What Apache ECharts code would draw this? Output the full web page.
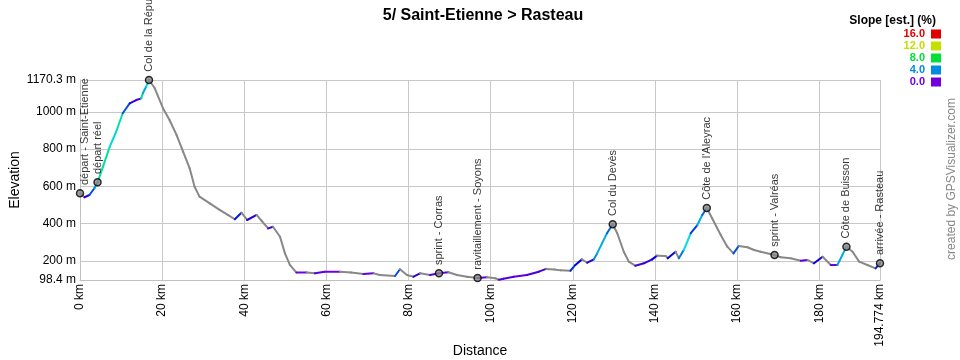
<!DOCTYPE html>
<html><head><meta charset="utf-8">
<script src="https://cdn.jsdelivr.net/npm/echarts@6/dist/echarts.min.js"></script>
<style>html,body{margin:0;padding:0;background:#fff}#c{width:960px;height:360px}</style>
</head><body><div id="c"></div>
<script>
// ---- data ----
const distanceKm = [0, 1.1, 2.3, 3.5, 4.27, 5.6, 7.2, 8.8, 10.4, 12.1, 13.7, 14.9, 15.3, 16.1, 16.8,
  18.2, 20.2, 21.8, 23.5, 25.1, 26.7, 27.9, 29.1, 31.6, 34.0, 36.0, 37.7, 39.3, 40.7, 43.0, 44.2, 45.8,
  47.0, 48.7, 49.9, 51.1, 52.7, 55.2, 57.2, 59.6, 63.3, 66.0, 69.0, 71.5, 73.0, 76.7, 77.9, 79.6, 81.2,
  82.8, 85.2, 87.4, 89.7, 91.8, 94.2, 96.8, 99.1, 101.1, 102.0, 103.1, 105.6, 108.8, 111.7, 113.5, 115.5,
  117.0, 119.4, 120.6, 122.2, 123.5, 125.1, 125.9, 127.1, 128.3, 129.7, 130.8, 132.4, 133.6, 135.2, 137.3,
  139.3, 140.5, 142.6, 143.1, 145.0, 145.8, 147.0, 148.7, 150.3, 151.5, 152.6, 153.9, 156.0, 157.6, 159.1,
  160.4, 162.5, 164.1, 165.7, 169.1, 170.6, 173.0, 175.5, 177.1, 178.7, 180.8, 182.8, 184.4, 185.6, 186.6,
  188.1, 189.7, 191.7, 193.7, 194.774];
const elevationM = [563, 542, 554, 590, 622, 706, 810, 893, 992, 1045, 1063, 1072, 1099, 1134, 1170.3,
  1126, 1019, 956, 876, 786, 697, 598, 545, 509, 474, 447, 424, 459, 420, 447, 416, 375,
  384, 330, 241, 179, 138, 138, 134, 143, 143, 138, 130, 134, 125, 120, 156, 125, 116,
  134, 125, 134, 140, 125, 116, 109, 113, 108, 100, 105, 116, 125, 143, 158, 155,
  150, 148, 179, 209, 191, 209, 241, 295, 349, 397, 349, 250, 197, 175, 188,
  209, 229, 227, 215, 250, 215, 259, 349, 393, 447, 484, 429, 340, 277, 241,
  281, 274, 259, 250, 232, 220, 215, 202, 206, 188, 223, 179, 179, 232, 277,
  250, 197, 179, 161, 188];
const xTickValues = [0, 20, 40, 60, 80, 100, 120, 140, 160, 180, 194.774];
const yTickValues = [98.4, 200, 400, 600, 800, 1000, 1170.3];
const waypointKm = [0, 4.27, 16.8, 87.4, 96.8, 129.7, 152.6, 169.1, 186.6, 194.774];
const waypointElev = [563, 622, 1170.3, 134, 109, 397, 484, 232, 277, 188];
const waypointNames = ['départ - Saint-Etienne', 'départ réel', 'Col de la République', 'sprint - Corras',
  'ravitaillement - Soyons', 'Col du Devès', "Côte de l'Aleyrac", 'sprint - Valréas', 'Côte de Buisson',
  'arrivée - Rasteau'];
const slopeLegendValues = [16.0, 12.0, 8.0, 4.0, 0.0];

function slopeColor(s) {
  if (s < 0) return '#888888';
  const c = Math.min(s, 16);
  return 'hsl(' + (270 - c * 16.875).toFixed(1) + ',100%,44%)';
}

const segData = [];
for (let i = 0; i < distanceKm.length - 1; i++) {
  const dx = distanceKm[i + 1] - distanceKm[i];
  const dy = elevationM[i + 1] - elevationM[i];
  segData.push([distanceKm[i], elevationM[i], distanceKm[i + 1], elevationM[i + 1], dy / (dx * 10)]);
}
const wpData = waypointKm.map((k, i) => {
  const item = { value: [k, waypointElev[i]], name: waypointNames[i] };
  if (i === 0) item.label = { position: [9.5, -4] };
  return item;
});

const FONT = '"Liberation Sans", Arial, sans-serif';
const legendGraphics = [{
  type: 'text', right: 24, top: 15,
  style: { text: 'Slope [est.] (%)', font: 'bold 12px ' + FONT, fill: '#000' }
}];
slopeLegendValues.forEach((v, i) => {
  legendGraphics.push({
    type: 'text', x: 925, y: 34 + 12 * i,
    style: { text: v.toFixed(1), font: 'bold 11px ' + FONT, fill: slopeColor(v), align: 'right', verticalAlign: 'middle' }
  });
  legendGraphics.push({
    type: 'rect', shape: { x: 931, y: 29.5 + 12 * i, width: 10, height: 9 },
    style: { fill: slopeColor(v) }
  });
});
legendGraphics.push({
  type: 'text', x: 952, y: 179, rotation: Math.PI / 2,
  style: { text: 'created by GPSVisualizer.com', font: '12px ' + FONT, fill: '#888', align: 'center', verticalAlign: 'middle' }
});

const chart = echarts.init(document.getElementById('c'), null, { renderer: 'canvas' });
chart.setOption({
  animation: false,
  backgroundColor: '#fff',
  title: {
    text: '5/ Saint-Etienne > Rasteau', left: 478, top: 3, textAlign: 'center',
    textStyle: { fontFamily: FONT, fontWeight: 'bold', fontSize: 16, color: '#000' }
  },
  grid: { left: 80, right: 80, top: 80, bottom: 80, containLabel: false, outerBoundsMode: 'none' },
  xAxis: {
    type: 'value', min: 0, max: 194.774,
    name: 'Distance', nameLocation: 'middle', nameGap: 64, nameMoveOverlap: false,
    nameTextStyle: { fontFamily: FONT, fontSize: 14, color: '#000' },
    axisLine: { show: true, lineStyle: { color: '#c0c0c0', width: 1 } },
    axisTick: { show: false, customValues: xTickValues },
    axisLabel: {
      customValues: xTickValues, rotate: 90, margin: 4,
      fontFamily: FONT, fontSize: 12, color: '#000',
      formatter: v => v + ' km'
    },
    splitLine: { show: true, lineStyle: { color: '#c8c8c8', width: 1 } }
  },
  yAxis: {
    type: 'value', min: 98.4, max: 1170.3,
    name: 'Elevation', nameLocation: 'middle', nameGap: 58, nameRotate: 90, nameMoveOverlap: false,
    nameTextStyle: { fontFamily: FONT, fontSize: 14, color: '#000' },
    axisLine: { show: true, lineStyle: { color: '#c0c0c0', width: 1 } },
    axisTick: { show: false, customValues: yTickValues },
    axisLabel: {
      customValues: yTickValues, margin: 4,
      fontFamily: FONT, fontSize: 12, color: '#000',
      formatter: v => v + ' m'
    },
    splitLine: { show: true, lineStyle: { color: '#c8c8c8', width: 1 } }
  },
  graphic: legendGraphics,
  series: [{
    type: 'custom',
    data: segData,
    encode: { x: [0, 2], y: [1, 3] },
    silent: true,
    clip: false,
    z: 2,
    renderItem: function (params, api) {
      const p0 = api.coord([api.value(0), api.value(1)]);
      const p1 = api.coord([api.value(2), api.value(3)]);
      return {
        type: 'line',
        shape: { x1: p0[0], y1: p0[1], x2: p1[0], y2: p1[1] },
        style: { stroke: slopeColor(api.value(4)), lineWidth: 2, lineCap: 'round' }
      };
    }
  }, {
    type: 'scatter',
    data: wpData,
    symbol: 'circle', symbolSize: 7,
    clip: false, silent: true, z: 3,
    itemStyle: { color: '#888', borderColor: '#000', borderWidth: 1.5 },
    label: {
      show: true, formatter: p => p.name, rotate: 90,
      position: ['50%', -4], align: 'left', verticalAlign: 'middle',
      fontFamily: FONT, fontSize: 11, color: '#000'
    }
  }]
});
</script>
</body></html>
